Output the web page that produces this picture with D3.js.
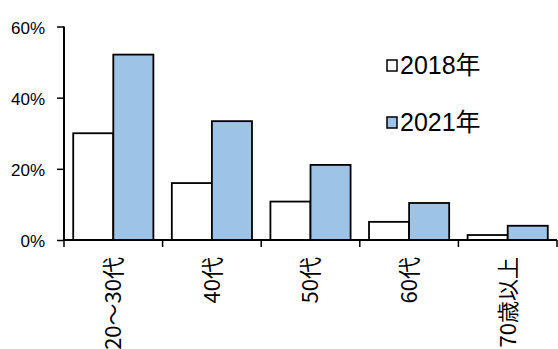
<!DOCTYPE html>
<html>
<head>
<meta charset="utf-8">
<script src="https://cdn.jsdelivr.net/npm/d3@7"></script>
<style>
  body { margin: 0; background: #fff; }
  svg { display: block; }
  .ylab { font-family: "Liberation Sans", Arial, sans-serif; font-size: 17px; }
  .xlab { font-family: "Liberation Sans Narrow", "Noto Sans CJK JP", sans-serif; }
  .leg { font-family: "Liberation Sans", "Noto Sans CJK JP", sans-serif; }
</style>
</head>
<body>
<svg></svg>
<script>
const categories = ['20～30代', '40代', '50代', '60代', '70歳以上'];
const seriesNames = ['2018年', '2021年'];
const values2018 = [0.30, 0.16, 0.108, 0.051, 0.014];
const values2021 = [0.521, 0.334, 0.211, 0.104, 0.040];
const yTicks = [0, 0.2, 0.4, 0.6];
const colors = ['#ffffff', '#9dc3e6'];

const width = 558, height = 349;
const svg = d3.select('svg').attr('width', width).attr('height', height);

// table for drawing
const data = categories.map((c, i) => ({cat: c, vals: [values2018[i], values2021[i]]}));

const x0 = d3.scaleBand().domain(categories).range([64, 557]).padding(0);
const x1 = d3.scaleBand().domain([0, 1]).range([0, x0.bandwidth()]).paddingInner(0).paddingOuter(0.23);
const y = d3.scaleLinear().domain([0, 0.6]).range([240, 26.5]);

// bars
const groups = svg.selectAll('g.grp')
  .data(data)
  .enter().append('g')
  .attr('class', 'grp')
  .attr('transform', d => `translate(${x0(d.cat)},0)`);

groups.selectAll('rect')
  .data(d => d.vals.map((v, k) => ({k, v})))
  .enter().append('rect')
  .attr('x', d => x1(d.k))
  .attr('width', x1.bandwidth())
  .attr('y', d => y(d.v))
  .attr('height', d => y(0) - y(d.v))
  .attr('fill', d => colors[d.k])
  .attr('stroke', '#000')
  .attr('stroke-width', 1.8);

// y axis
const yAxis = svg.append('g')
  .attr('transform', 'translate(64,0)')
  .call(d3.axisLeft(y).tickValues(yTicks).tickSize(7).tickFormat(d3.format('.0%')));
yAxis.select('.domain').attr('stroke', '#000').attr('stroke-width', 2).attr('d', `M0,${y(0.6)}V${y(0)}`);
yAxis.selectAll('.tick line').attr('stroke', '#000').attr('stroke-width', 1.5);
yAxis.selectAll('.tick text').attr('class', 'ylab').attr('x', -19).attr('dy', '0.4em').attr('fill', '#000');

// x axis line + ticks at band edges
svg.append('line')
  .attr('x1', 64).attr('x2', 557)
  .attr('y1', y(0)).attr('y2', y(0))
  .attr('stroke', '#000').attr('stroke-width', 2.2);

const edges = categories.map(c => x0(c)).concat([x0.range()[1]]);
svg.selectAll('line.xt')
  .data(edges)
  .enter().append('line')
  .attr('class', 'xt')
  .attr('x1', d => d).attr('x2', d => d)
  .attr('y1', y(0)).attr('y2', y(0) + 7)
  .attr('stroke', '#000').attr('stroke-width', 1.5);

// x labels (rotated)
svg.selectAll('text.xlab')
  .data(categories)
  .enter().append('text')
  .attr('class', 'xlab')
  .attr('transform', d => `translate(${x0(d) + x0.bandwidth() / 2},257) rotate(-90)`)
  .attr('text-anchor', 'end')
  .attr('dy', '0.36em')
  .attr('font-size', 22)
  .text(d => d);

// legend
const leg = svg.selectAll('g.leg')
  .data(seriesNames)
  .enter().append('g')
  .attr('class', 'leg')
  .attr('transform', (d, i) => `translate(387,${60 + i * 57})`);

leg.append('rect')
  .attr('width', 10).attr('height', 11)
  .attr('fill', (d, i) => colors[i])
  .attr('stroke', '#000').attr('stroke-width', 1.5);

leg.append('text')
  .attr('x', 13).attr('y', 13.5)
  .attr('font-size', 25)
  .text(d => d);
</script>
</body>
</html>
